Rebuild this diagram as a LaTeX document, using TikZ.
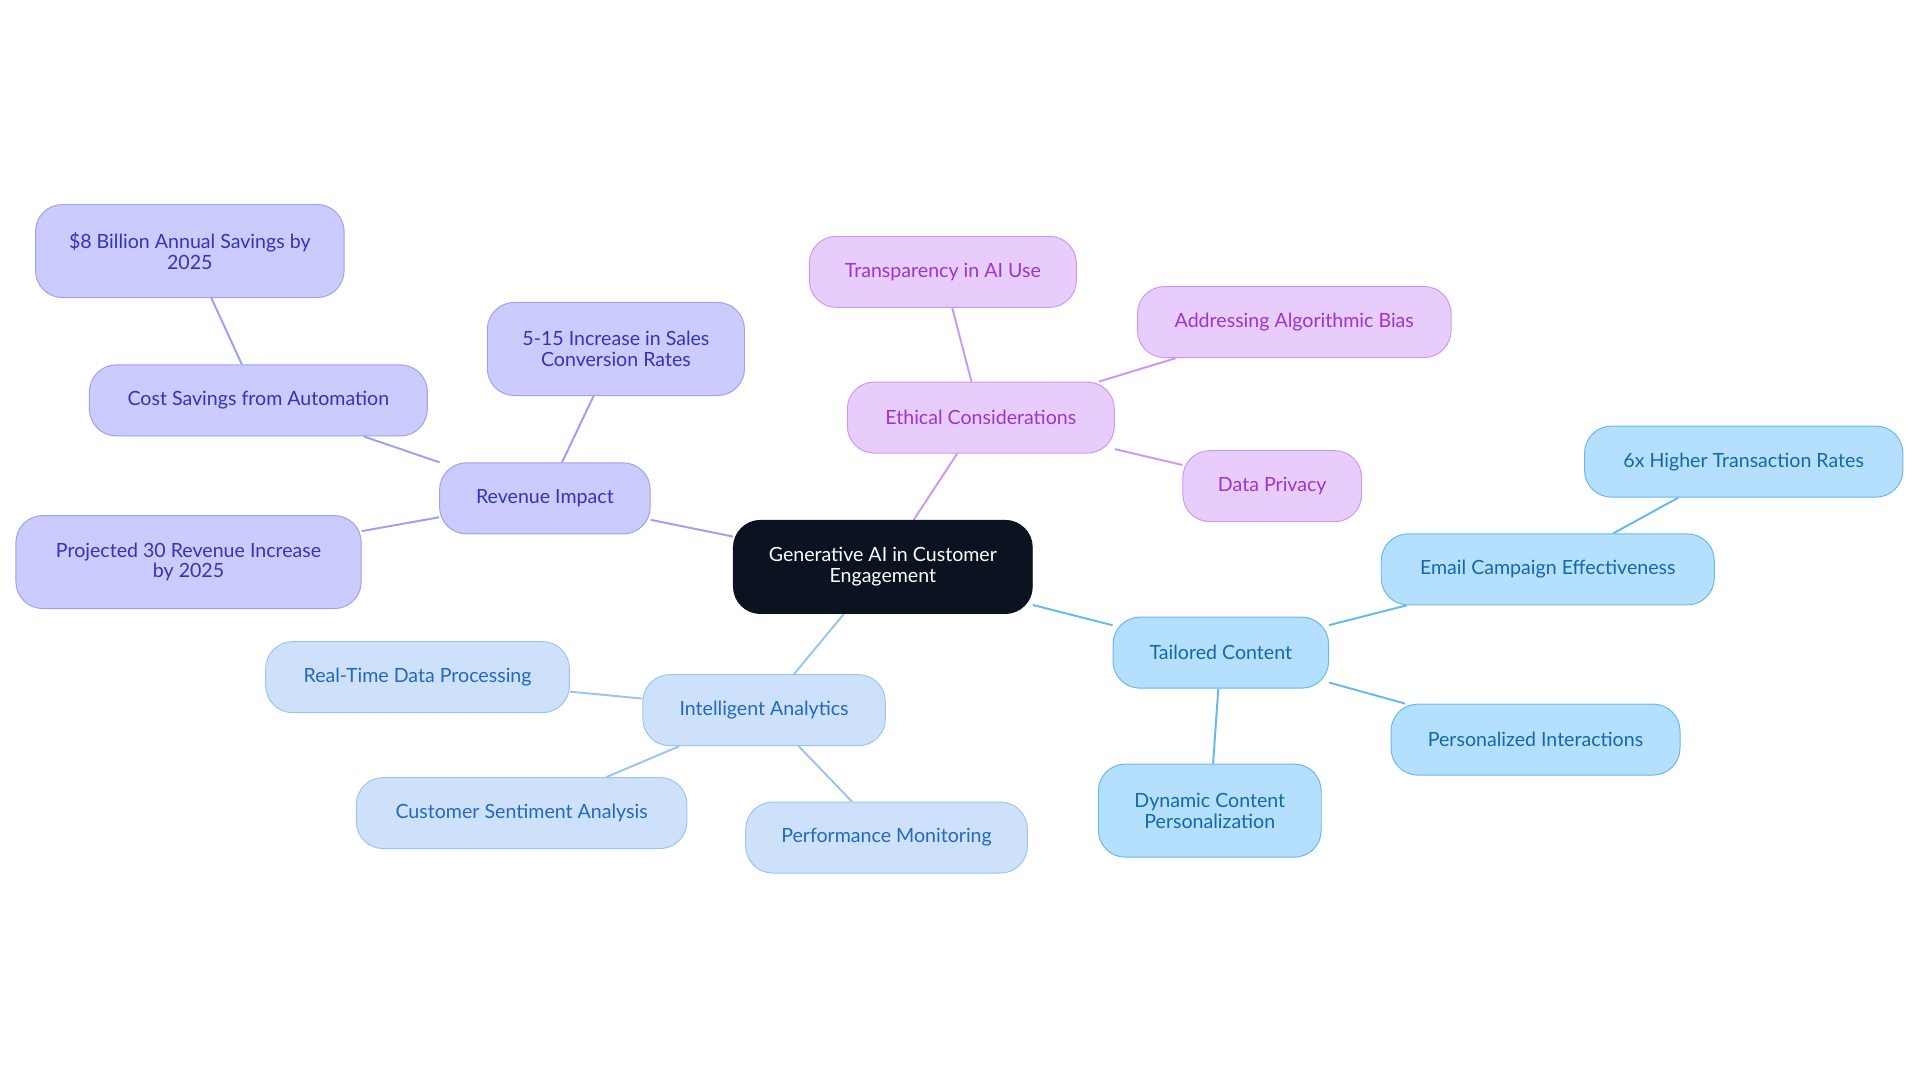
\documentclass[tikz,border=0pt]{standalone}
\usepackage{fontspec}
\setmainfont{Lato}
\usetikzlibrary{backgrounds}
\definecolor{cdark}{HTML}{0B1220}
\definecolor{rfill}{HTML}{CBCBFD}\definecolor{rdraw}{HTML}{A0A0F0}\definecolor{rtext}{HTML}{3434B8}
\definecolor{efill}{HTML}{E8CCFC}\definecolor{edraw}{HTML}{CC99EE}\definecolor{etext}{HTML}{9A36CC}
\definecolor{afill}{HTML}{CDE2FA}\definecolor{adraw}{HTML}{9CC4EE}\definecolor{atext}{HTML}{2468BE}
\definecolor{tfill}{HTML}{B4E0FE}\definecolor{tdraw}{HTML}{6AB8EA}\definecolor{ttext}{HTML}{1468A8}
\begin{document}
\begin{tikzpicture}[x=1pt,y=-1pt,
  box/.style={rounded corners=22pt,align=center,font=\fontsize{16}{17}\selectfont,inner sep=0pt,line width=0.8pt},
  rb/.style={box,fill=rfill,draw=rdraw,text=rtext},
  eb/.style={box,fill=efill,draw=edraw,text=etext},
  ab/.style={box,fill=afill,draw=adraw,text=atext},
  tb/.style={box,fill=tfill,draw=tdraw,text=ttext},
  re/.style={draw=rdraw,line width=1.6pt},
  ee/.style={draw=edraw,line width=1.6pt},
  ae/.style={draw=adraw,line width=1.6pt},
  te/.style={draw=tdraw,line width=1.6pt}]
\useasboundingbox (0,0) rectangle (1568,884);
\node[box,fill=cdark,draw=cdark,text=white,minimum width=244pt,minimum height=76pt] (c) at (721,463) {Generative AI in Customer\\Engagement};
\node[rb,minimum width=172pt,minimum height=58pt] (rev) at (445,407) {Revenue Impact};
\node[rb,minimum width=276pt,minimum height=58pt] (cost) at (211,327) {Cost Savings from Automation};
\node[rb,minimum width=252pt,minimum height=76pt] (bil) at (155,205) {\$8 Billion Annual Savings by\\2025};
\node[rb,minimum width=210pt,minimum height=76pt] (sal) at (503,285) {5-15 Increase in Sales\\Conversion Rates};
\node[rb,minimum width=282pt,minimum height=76pt] (proj) at (154,459) {Projected 30 Revenue Increase\\by 2025};
\node[eb,minimum width=218pt,minimum height=58pt] (eth) at (801,341) {Ethical Considerations};
\node[eb,minimum width=218pt,minimum height=58pt] (tra) at (770,222) {Transparency in AI Use};
\node[eb,minimum width=256pt,minimum height=58pt] (bias) at (1057,263) {Addressing Algorithmic Bias};
\node[eb,minimum width=146pt,minimum height=58pt] (priv) at (1039,397) {Data Privacy};
\node[tb,minimum width=176pt,minimum height=58pt] (tai) at (997,533) {Tailored Content};
\node[tb,minimum width=272pt,minimum height=58pt] (email) at (1264,465) {Email Campaign Effectiveness};
\node[tb,minimum width=260pt,minimum height=58pt] (six) at (1424,377) {6x Higher Transaction Rates};
\node[tb,minimum width=236pt,minimum height=58pt] (pers) at (1254,604) {Personalized Interactions};
\node[tb,minimum width=182pt,minimum height=76pt] (dyn) at (988,662) {Dynamic Content\\Personalization};
\node[ab,minimum width=198pt,minimum height=58pt] (ia) at (624,580) {Intelligent Analytics};
\node[ab,minimum width=248pt,minimum height=58pt] (rt) at (341,553) {Real-Time Data Processing};
\node[ab,minimum width=270pt,minimum height=58pt] (cs) at (426,664) {Customer Sentiment Analysis};
\node[ab,minimum width=230pt,minimum height=58pt] (pm) at (724,684) {Performance Monitoring};
\begin{scope}[on background layer]
\draw[re] (c) -- (rev); \draw[re] (rev) -- (cost); \draw[re] (cost) -- (bil);
\draw[re] (rev) -- (sal); \draw[re] (rev) -- (proj);
\draw[ee] (c) -- (eth); \draw[ee] (eth) -- (tra); \draw[ee] (eth) -- (bias); \draw[ee] (eth) -- (priv);
\draw[te] (c) -- (tai); \draw[te] (tai) -- (email); \draw[te] (email) -- (six);
\draw[te] (tai) -- (pers); \draw[te] (tai) -- (dyn);
\draw[ae] (c) -- (ia); \draw[ae] (ia) -- (rt); \draw[ae] (ia) -- (cs); \draw[ae] (ia) -- (pm);
\end{scope}
\end{tikzpicture}
\end{document}
